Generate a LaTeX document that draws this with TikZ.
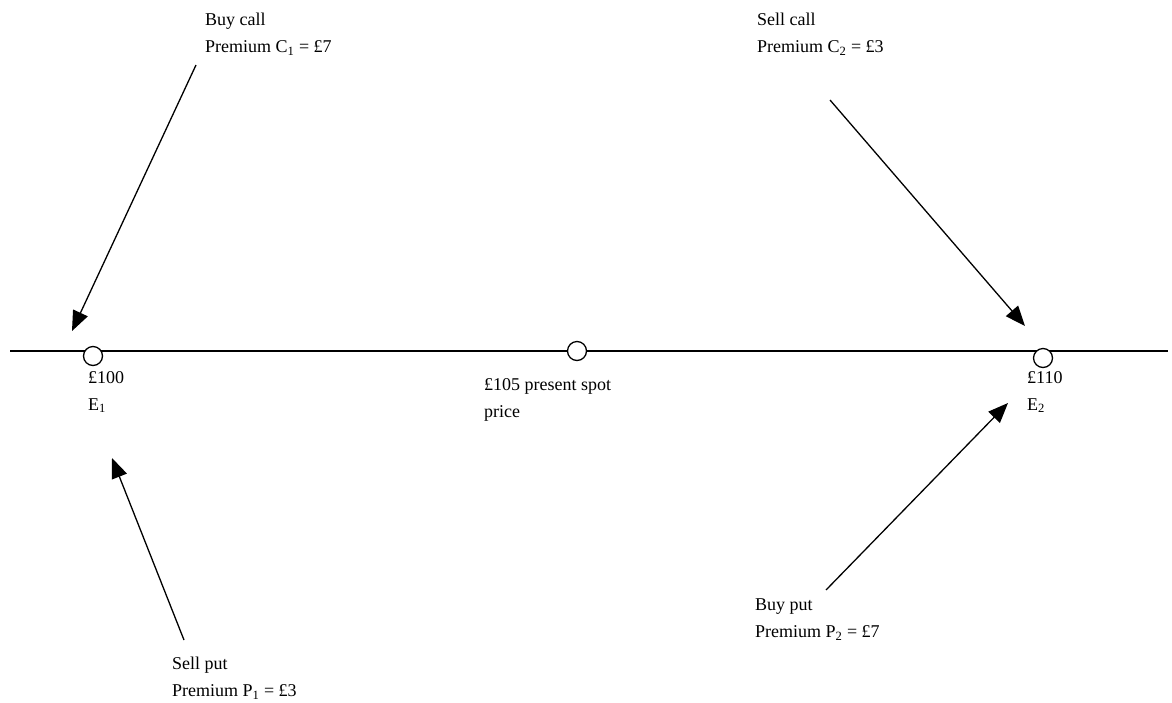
\documentclass[tikz,border=0pt]{standalone}
\usepackage{fontspec}
\setmainfont{Liberation Serif}
\usetikzlibrary{arrows.meta}
\begin{document}
\begin{tikzpicture}[x=1pt,y=-1pt,
  lbl/.style={anchor=north west, inner sep=0pt, align=left, font=\fontsize{18}{27}\selectfont},
  pt/.style={circle, draw, line width=1.3pt, minimum size=19pt, inner sep=0pt, fill=white},
  arr/.style={line width=1.3pt, -{Triangle[length=20pt,width=16pt]}},
  axis/.style={line width=1.3pt}]
\useasboundingbox (0,0) rectangle (1172,702);
% axis
\coordinate (L) at (10,351);
\coordinate (R) at (1168,351);
\draw[axis] (L) -- (R);
\node[pt] (p1) at (93,356) {};
\node[pt] (p2) at (577,351) {};
\node[pt] (p3) at (1043,358) {};
% labels
\node[lbl] (buycall) at (205,13) {Buy call\\Premium C\textsubscript{1} = £7};
\node[lbl] (sellcall) at (757,13) {Sell call\\Premium C\textsubscript{2} = £3};
\node[lbl] (e1) at (88,371) {£100\\E\textsubscript{1}};
\node[lbl] (spot) at (484,378) {£105 present spot\\price};
\node[lbl] (e2) at (1027,371) {£110\\E\textsubscript{2}};
\node[lbl] (sellput) at (172,657) {Sell put\\Premium P\textsubscript{1} = £3};
\node[lbl] (buyput) at (755,599) {Buy put\\Premium P\textsubscript{2} = £7};
% arrows
\coordinate (a1s) at (196,65);
\coordinate (a1e) at (72,331);
\coordinate (a2s) at (830,100);
\coordinate (a2e) at (1025,326);
\coordinate (a3s) at (184,640);
\coordinate (a3e) at (112,458);
\coordinate (a4s) at (826,590);
\coordinate (a4e) at (1008,403);
\draw[arr] (a1s) -- (a1e);
\draw[arr] (a2s) -- (a2e);
\draw[arr] (a3s) -- (a3e);
\draw[arr] (a4s) -- (a4e);
\end{tikzpicture}
\end{document}
